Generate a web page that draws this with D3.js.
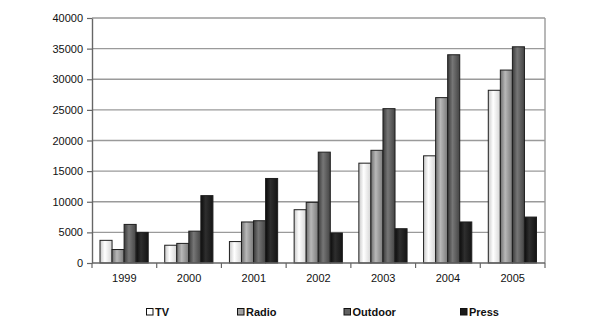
<!DOCTYPE html>
<html>
<head>
<meta charset="utf-8">
<script src="https://cdn.jsdelivr.net/npm/d3@7"></script>
<style>
  html, body { margin: 0; padding: 0; background: #fff; }
  svg { display: block; font-family: "Liberation Sans", Arial, sans-serif; }
</style>
</head>
<body>
<svg id="chart" width="600" height="330"></svg>
<script>
// Advertising spend by medium, 1999–2005
const years = ["1999", "2000", "2001", "2002", "2003", "2004", "2005"];
const seriesNames = ["TV", "Radio", "Outdoor", "Press"];
const tv      = [3700, 2900, 3500, 8700, 16300, 17500, 28200];
const radio   = [2200, 3200, 6700, 9900, 18400, 27000, 31500];
const outdoor = [6300, 5200, 6900, 18100, 25200, 34000, 35300];
const press   = [5000, 11000, 13800, 4900, 5600, 6700, 7500];
const yTicks  = [0, 5000, 10000, 15000, 20000, 25000, 30000, 35000, 40000];

const seriesValues = [tv, radio, outdoor, press];

// shaded fills: [edge, highlight, edge]
const shades = [
  ["#c8c8c8", "#ffffff", "#d4d4d4"],
  ["#6e6e6e", "#b8b8b8", "#7a7a7a"],
  ["#3a3a3a", "#767676", "#444444"],
  ["#0c0c0c", "#2e2e2e", "#141414"]
];
const legendFill = ["#ffffff", "#a0a0a0", "#606060", "#1a1a1a"];

const svg = d3.select("#chart");
const margin = { left: 92, right: 55, top: 18, bottom: 67 };
const W = 600, H = 330;
const innerW = W - margin.left - margin.right;
const innerH = H - margin.top - margin.bottom;

const defs = svg.append("defs");
shades.forEach((s, i) => {
  const g = defs.append("linearGradient")
    .attr("id", "grad" + i).attr("x1", "0").attr("x2", "1").attr("y1", "0").attr("y2", "0");
  g.append("stop").attr("offset", "0%").attr("stop-color", s[0]);
  g.append("stop").attr("offset", "40%").attr("stop-color", s[1]);
  g.append("stop").attr("offset", "100%").attr("stop-color", s[2]);
});

const g = svg.append("g").attr("transform", `translate(${margin.left},${margin.top})`);

const x0 = d3.scaleBand().domain(years).range([0, innerW]).paddingInner(0).paddingOuter(0);
const x1 = d3.scaleBand().domain(seriesNames).range([8, x0.bandwidth() - 8.5]).padding(0);
const y = d3.scaleLinear().domain([0, 40000]).range([innerH, 0]);

// gridlines
g.append("g").selectAll("line").data(yTicks.filter(d => d > 0)).join("line")
  .attr("x1", 0).attr("x2", innerW)
  .attr("y1", d => y(d)).attr("y2", d => y(d))
  .attr("stroke", "#9a9a9a").attr("stroke-width", 1.4);

// right border of plot area
g.append("line").attr("x1", innerW).attr("x2", innerW).attr("y1", 0).attr("y2", innerH)
  .attr("stroke", "#9a9a9a").attr("stroke-width", 1.4);

// bars
const groups = g.append("g").selectAll("g").data(years).join("g")
  .attr("transform", d => `translate(${x0(d)},0)`);
groups.selectAll("rect")
  .data((yr, yi) => seriesNames.map((name, si) => ({ name, si, value: seriesValues[si][yi] })))
  .join("rect")
  .attr("x", d => x1(d.name))
  .attr("width", x1.bandwidth())
  .attr("y", d => y(d.value))
  .attr("height", d => innerH - y(d.value))
  .attr("fill", d => `url(#grad${d.si})`)
  .attr("stroke", "#1e1e1e").attr("stroke-width", 1);

// y axis
const yAxis = g.append("g").call(d3.axisLeft(y).tickValues(yTicks).tickSize(5).tickSizeOuter(0).tickFormat(d3.format("d")));
yAxis.select(".domain").attr("stroke", "#666").attr("stroke-width", 1.4);
yAxis.selectAll(".tick line").attr("stroke", "#666").attr("stroke-width", 1.2);
yAxis.selectAll(".tick text").attr("font-size", 11).attr("fill", "#111").attr("x", -9)
  .attr("font-family", "Liberation Sans, Arial, sans-serif");

// x axis with ticks at category boundaries
const xAxisG = g.append("g").attr("transform", `translate(0,${innerH})`);
xAxisG.append("line").attr("x1", 0).attr("x2", innerW).attr("y1", 0).attr("y2", 0)
  .attr("stroke", "#666").attr("stroke-width", 1.4);
const bounds = years.map(d => x0(d)).concat([innerW]);
xAxisG.selectAll("line.tk").data(bounds).join("line").attr("class", "tk")
  .attr("x1", d => d).attr("x2", d => d).attr("y1", 0).attr("y2", 5)
  .attr("stroke", "#666").attr("stroke-width", 1.2);
xAxisG.selectAll("text").data(years).join("text")
  .attr("x", d => x0(d) + x0.bandwidth() / 2)
  .attr("y", 19)
  .attr("text-anchor", "middle")
  .attr("font-size", 11).attr("fill", "#111")
  .text(d => d);

// legend
const legendX = [146.5, 237.5, 344, 460.5];
const legend = svg.append("g").selectAll("g").data(seriesNames).join("g")
  .attr("transform", (d, i) => `translate(${legendX[i]},308)`);
legend.append("rect").attr("x", 0).attr("y", 0.5).attr("width", 6.5).attr("height", 6.5)
  .attr("fill", (d, i) => legendFill[i]).attr("stroke", "#111").attr("stroke-width", 1);
legend.append("text").attr("x", 8.5).attr("y", 7.8)
  .attr("font-size", 11).attr("font-weight", "bold").attr("fill", "#111")
  .text(d => d);
</script>
</body>
</html>
